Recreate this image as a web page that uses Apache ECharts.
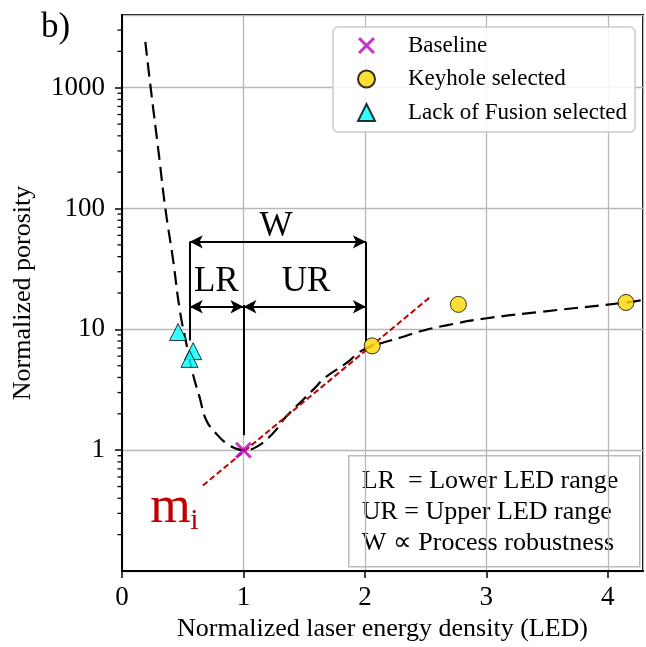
<!DOCTYPE html>
<html><head><meta charset="utf-8">
<script src="https://cdn.jsdelivr.net/npm/echarts@6/dist/echarts.min.js"></script>
<style>html,body{margin:0;padding:0;background:#fff}#c{width:646px;height:647px}</style>
</head><body><div id="c"></div>
<script>
const FONT = '"Liberation Serif", "Times New Roman", serif';

// fitted porosity curve (dashed black)
const curveX = [0.192, 0.236, 0.30, 0.357, 0.42, 0.476, 0.53, 0.583, 0.638, 0.694, 0.776, 0.858, 0.94, 1.0, 1.104, 1.24, 1.35, 1.487, 1.57, 1.68, 1.844, 1.94, 2.008, 2.12, 2.3, 2.45, 2.67, 2.99, 3.46, 4.15, 4.29];
const curveY = [2400, 1000, 300, 100, 38, 14.4, 7.6, 4.3, 2.76, 1.77, 1.37, 1.14, 1.03, 1.0, 1.06, 1.37, 1.89, 2.59, 3.14, 4.04, 5.22, 6.3, 6.95, 7.6, 8.6, 9.6, 10.8, 12.3, 14.0, 16.7, 17.5];

// markers
const baselineX = [1.0];
const baselineY = [1.0];
const keyholeX = [2.06, 2.77, 4.15];
const keyholeY = [7.3, 16.1, 16.7];
const lofX = [0.462, 0.586, 0.556];
const lofY = [9.5, 6.6, 5.7];

// tangent m_i (red dashed)
const tangentX = [0.666, 2.54];
const tangentY = [0.51, 18.6];

// range annotation (LED values)
const lrLeft = 0.558, baseLED = 1.0, urRight = 2.008;
const wArrowY = 53, rangeArrowY = 15.4;
const vLeftBottom = 8.1, vRightBottom = 7.9, vMidTop = 15.9, vMidBottom = 1.33;
const annoText = ['W', 'LR', 'UR'];
const annoX = [1.269, 0.776, 1.515];
const annoY = [70.6, 24.7, 24.7];
const miText = ['m', 'i'];
const miX = [0.40, 0.597];
const miY = [0.33, 0.258];
const miSize = [52, 30];

// axis
const yTickLabels = ['1', '10', '100', '1000'];
const yMinor = [0.2,0.3,0.4,0.5,0.6,0.7,0.8,0.9,2,3,4,5,6,7,8,9,20,30,40,50,60,70,80,90,200,300,400,500,600,700,800,900,2000,3000];

const zip = (xs, ys) => xs.map((x, i) => [x, ys[i]]);

const chart = echarts.init(document.getElementById('c'));
const xPath = 'path://M0,2.5 L2.5,0 L10,7.5 L17.5,0 L20,2.5 L12.5,10 L20,17.5 L17.5,20 L10,12.5 L2.5,20 L0,17.5 L7.5,10 Z';
const plainLabel = { textBorderWidth: 0, textShadowBlur: 0, opacity: 1 };

chart.setOption({
  animation: false,
  textStyle: { fontFamily: FONT },
  title: { text: 'b)', left: 36, top: 5, textStyle: { fontFamily: FONT, fontSize: 35, fontWeight: 'normal', color: '#000' } },
  grid: { left: 122, right: 3, top: 15, bottom: 76, show: true, borderColor: '#000', borderWidth: 2, backgroundColor: 'transparent' },
  legend: {
    orient: 'vertical', left: 333, top: 27,
    padding: [7, 8, 8, 24],
    itemWidth: 17, itemHeight: 17, itemGap: 10.5,
    borderColor: '#cccccc', borderWidth: 1.5, borderRadius: 5,
    backgroundColor: 'rgba(255,255,255,0.85)',
    textStyle: { fontFamily: FONT, fontSize: 23, color: '#000', lineHeight: 22, padding: [0, 0, 0, 28] },
    data: ['Baseline', 'Keyhole selected', 'Lack of Fusion selected']
  },
  xAxis: {
    type: 'value', min: 0, max: 4.29, interval: 1,
    axisLine: { show: true, lineStyle: { color: '#000', width: 2 } },
    axisTick: { show: true, length: 7, lineStyle: { color: '#000', width: 1.5 } },
    axisLabel: { showMaxLabel: false, fontSize: 27, color: '#000', fontFamily: FONT, margin: 13 },
    splitLine: { show: true, lineStyle: { color: '#b8b8b8', width: 1.3 } },
    name: 'Normalized laser energy density (LED)', nameLocation: 'middle', nameGap: 37,
    nameTextStyle: { fontSize: 26, color: '#000', fontFamily: FONT }
  },
  yAxis: {
    type: 'log', logBase: 10, min: 0.1, max: 4000,
    axisLine: { show: true, lineStyle: { color: '#000', width: 2 } },
    axisTick: { show: true, length: 7, lineStyle: { color: '#000', width: 1.5 } },
    axisLabel: {
      showMinLabel: false, showMaxLabel: false, fontSize: 27, color: '#000', fontFamily: FONT, margin: 17,
      formatter: v => { const s = yTickLabels.find(t => Math.abs(Number(t) - v) < 1e-6 * Math.max(1, v)); return s || ''; }
    },
    splitLine: { show: true, lineStyle: { color: '#b8b8b8', width: 1.3 } },
    name: 'Normalized porosity', nameLocation: 'middle', nameGap: 86,
    nameTextStyle: { fontSize: 26, color: '#000', fontFamily: FONT }
  },
  series: [
    {
      name: 'curve', type: 'line', data: zip(curveX, curveY), showSymbol: false, symbol: 'none',
      smooth: 0.45, z: 3, silent: true,
      lineStyle: { color: '#000', width: 2.2, type: [14, 7] }
    },
    {
      name: 'tangent', type: 'line', data: zip(tangentX, tangentY), showSymbol: false, symbol: 'none', z: 4, silent: true,
      lineStyle: { color: '#c00000', width: 2, type: [6, 3] }
    },
    {
      name: 'ranges', type: 'line', data: [], silent: true, z: 4,
      markLine: {
        silent: true, animation: false, symbol: ['none', 'none'],
        label: { show: false },
        lineStyle: { color: '#000', width: 2, type: 'solid' },
        emphasis: { disabled: true },
        data: [
          [{ coord: [lrLeft, wArrowY] }, { coord: [lrLeft, vLeftBottom] }],
          [{ coord: [urRight, wArrowY] }, { coord: [urRight, vRightBottom] }],
          [{ coord: [baseLED, vMidTop] }, { coord: [baseLED, vMidBottom] }],
          [{ coord: [lrLeft, wArrowY], symbol: 'arrow' }, { coord: [urRight, wArrowY], symbol: 'arrow' }],
          [{ coord: [lrLeft, rangeArrowY], symbol: 'arrow' }, { coord: [baseLED, rangeArrowY], symbol: 'arrow' }],
          [{ coord: [baseLED, rangeArrowY], symbol: 'arrow' }, { coord: [urRight, rangeArrowY], symbol: 'arrow' }]
        ],
        symbolSize: [10, 13]
      }
    },
    {
      name: 'labels', type: 'scatter', symbolSize: 0, silent: true, z: 5,
      itemStyle: { color: '#000', opacity: 1 },
      data: annoText.map((t, i) => ({ value: [annoX[i], annoY[i]], name: t })),
      label: Object.assign({ show: true, position: 'inside', formatter: p => p.name, fontSize: 35, color: '#000', fontFamily: FONT }, plainLabel)
    },
    {
      name: 'mi', type: 'scatter', symbolSize: 0, silent: true, z: 5,
      itemStyle: { color: '#c00000', opacity: 1 },
      data: miText.map((t, i) => ({ value: [miX[i], miY[i]], name: t, label: { fontSize: miSize[i] } })),
      label: Object.assign({ show: true, position: 'inside', formatter: p => p.name, color: '#c00000', fontFamily: FONT }, plainLabel)
    },
    {
      name: 'Baseline', type: 'scatter', data: zip(baselineX, baselineY), symbol: xPath, symbolSize: 17, z: 6,
      itemStyle: { color: '#bf00bf' }
    },
    {
      name: 'Keyhole selected', type: 'scatter', data: zip(keyholeX, keyholeY), symbol: 'circle', symbolSize: 16, z: 6,
      itemStyle: { color: '#ffd700', borderColor: '#000', borderWidth: 1 }
    },
    {
      name: 'Lack of Fusion selected', type: 'scatter', data: zip(lofX, lofY), symbol: 'triangle', symbolSize: 17, z: 6,
      itemStyle: { color: '#00ffff', borderColor: '#000', borderWidth: 1 }
    },
    {
      name: 'minorTicks', type: 'custom', silent: true, clip: false, z: 6,
      data: yMinor.map(v => [0, v]),
      renderItem: (params, api) => {
        const p = api.coord([0, api.value(1)]);
        return { type: 'line', shape: { x1: p[0] - 4.5, y1: p[1], x2: p[0], y2: p[1] }, style: { stroke: '#000', lineWidth: 1.3 } };
      }
    }
  ],
  graphic: [
    {
      type: 'group', left: 348, top: 455, z: 10,
      children: [
        { type: 'rect', shape: { x: 0, y: 0, width: 291, height: 111 }, style: { fill: 'rgba(255,255,255,0.9)', stroke: '#bbbbbb', lineWidth: 1.5 } },
        { type: 'text', x: 13, y: 10, style: { text: 'LR  = Lower LED range\nUR = Upper LED range\nW ∝ Process robustness', fontSize: 26, fontFamily: FONT, fill: '#000', lineHeight: 31 } }
      ]
    }
  ]
});
</script></body></html>
